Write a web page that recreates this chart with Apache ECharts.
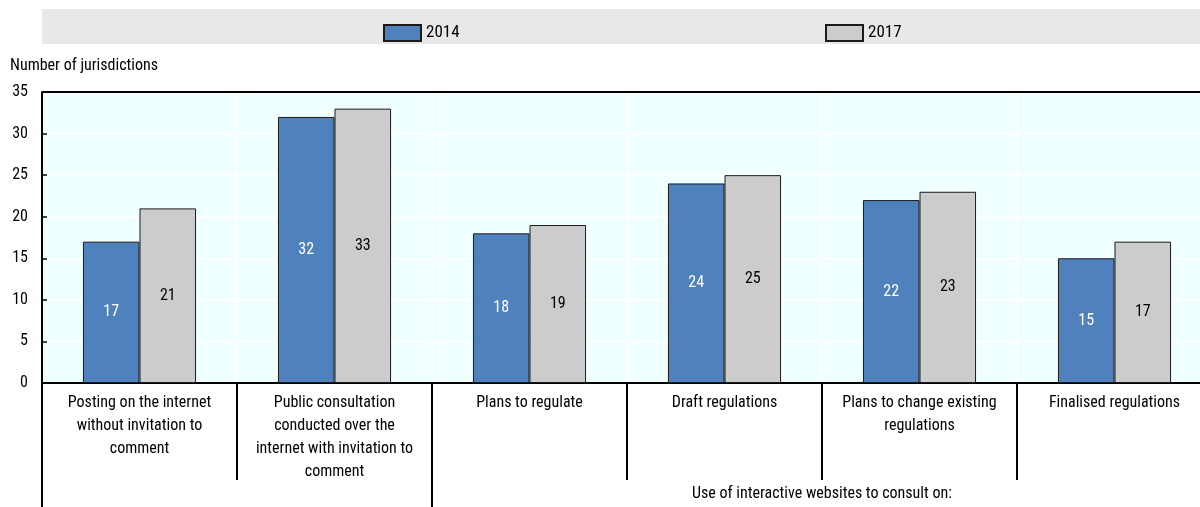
<!DOCTYPE html>
<html>
<head>
<meta charset="utf-8">
<script src="https://cdn.jsdelivr.net/npm/echarts@6/dist/echarts.min.js"></script>
<style>
  html, body { margin: 0; padding: 0; background: #fff; overflow: hidden; }
  #chart { width: 1212px; height: 507px; }
</style>
</head>
<body>
<div id="chart"></div>
<script>
// categories (line breaks as in the original figure)
var categories = [
  'Posting on the internet\nwithout invitation to\ncomment',
  'Public consultation\nconducted over the\ninternet with invitation to\ncomment',
  'Plans to regulate',
  'Draft regulations',
  'Plans to change existing\nregulations',
  'Finalised regulations'
];
var values2014 = [17, 32, 18, 24, 22, 15];
var values2017 = [21, 33, 19, 25, 23, 17];
var yTicks = [0, 5, 10, 15, 20, 25, 30, 35];
var yMax = 35;
var groupLabel = 'Use of interactive websites to consult on:';

var font = "'Roboto Condensed', 'Liberation Sans Narrow', 'Arial Narrow', 'Liberation Sans', sans-serif";

var dom = document.getElementById('chart');
var myChart = echarts.init(dom, null, { renderer: 'canvas' });

var option = {
    animation: false,
    textStyle: { fontFamily: font },
    graphic: [
        // grey legend band
        { type: 'rect', left: 42, top: 9, shape: { width: 1158, height: 35 }, style: { fill: '#e8e8e8' }, z: -1 },
        { type: 'text', left: 10, top: 58, style: { text: 'Number of jurisdictions', fontSize: 16, fontFamily: font, fill: '#000' } },
        // top frame of the plot area
        { type: 'rect', left: 42, top: 91, z: 100, shape: { width: 1170, height: 2 }, style: { fill: '#000' } }
    ],
    legend: [
        {
            data: ['2014'], left: 378, top: 19, itemWidth: 37, itemHeight: 16, itemGap: 8,
            icon: 'rect',
            textStyle: { fontSize: 17, color: '#000', fontFamily: font }
        },
        {
            data: ['2017'], left: 820, top: 19, itemWidth: 37, itemHeight: 16, itemGap: 8,
            icon: 'rect',
            textStyle: { fontSize: 17, color: '#000', fontFamily: font }
        }
    ],
    grid: {
        left: 42, top: 92, right: 0, bottom: 124,
        show: true, backgroundColor: '#f0ffff', borderWidth: 0
    },
    xAxis: [
        {
            type: 'category',
            data: categories,
            axisLine: { lineStyle: { color: '#000', width: 2 } },
            axisTick: { show: true, interval: 0, length: 97, lineStyle: { color: '#000', width: 2 } },
            axisLabel: { interval: 0, margin: 8, fontSize: 16, lineHeight: 23, color: '#000', fontFamily: font },
            splitLine: { show: true, interval: 0, lineStyle: { color: '#fff', width: 2 } }
        },
        {
            type: 'value', min: 0, max: 6, position: 'bottom', offset: 97,
            axisLine: { show: false },
            splitLine: { show: false },
            axisTick: { show: true, customValues: [0, 2], length: 27, lineStyle: { color: '#000', width: 2 } },
            axisLabel: {
                show: true, customValues: [4], margin: 6, fontSize: 16, color: '#000', fontFamily: font,
                formatter: function () { return groupLabel; }
            }
        }
    ],
    yAxis: {
        type: 'value', min: 0, max: yMax, interval: 5,
        axisLine: { show: true, lineStyle: { color: '#000', width: 2 } },
        axisTick: { show: true, inside: true, length: 5, lineStyle: { color: '#000', width: 1.5 } },
        axisLabel: {
            fontSize: 16, color: '#000', margin: 14, fontFamily: font,
            formatter: function (v) { return yTicks.indexOf(v) >= 0 ? String(v) : ''; }
        },
        splitLine: { show: true, lineStyle: { color: '#fff', width: 2 } }
    },
    series: [
        {
            name: '2014', type: 'bar', data: values2014,
            barGap: '0%', barCategoryGap: '42%',
            itemStyle: { color: '#4f81bd', borderColor: '#1a1a1a', borderWidth: 1 },
            label: { show: true, position: 'inside', fontSize: 16, color: '#fff', fontFamily: font }
        },
        {
            name: '2017', type: 'bar', data: values2017,
            barGap: '0%', barCategoryGap: '42%',
            itemStyle: { color: '#cccccc', borderColor: '#1a1a1a', borderWidth: 1 },
            label: { show: true, position: 'inside', fontSize: 16, color: '#000', fontFamily: font }
        }
    ]
};

if (option && typeof option === "object") {
    myChart.setOption(option, true);
}
</script>
</body>
</html>
